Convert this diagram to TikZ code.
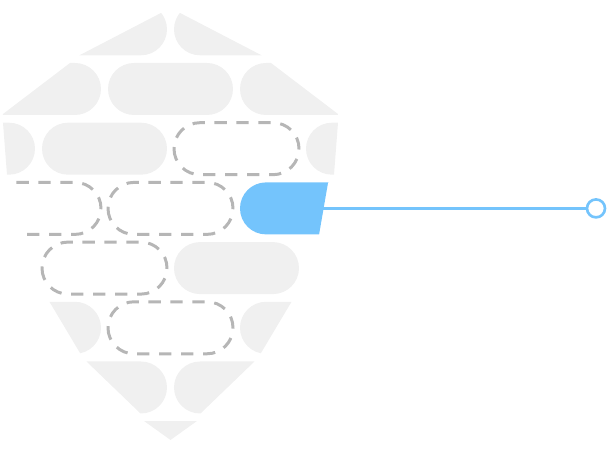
\documentclass[tikz,border=0pt]{standalone}
\usepackage{xcolor}
\usepackage{tikz}
\usetikzlibrary{positioning}
\definecolor{kbrick}{HTML}{F0F0F0}
\definecolor{kdash}{HTML}{B6B6B6}
\definecolor{kblue}{HTML}{74C4FC}

\begin{document}
\begin{tikzpicture}[x=0.02cm, y=-0.02cm,
  brick/.style={fill=kbrick, rounded corners=0.52cm},
  emptybrick/.style={draw=kdash, line width=1.7pt, dash pattern=on 7pt off 5.5pt, rounded corners=0.52cm},
  linkline/.style={draw=kblue, line width=1.4pt},
  port/.style={circle, draw=kblue, fill=white, line width=1.5pt, minimum size=0.36cm, inner sep=0pt}]
\useasboundingbox (0,0) rectangle (610,452);
\begin{scope}
\clip (170.5,8) -- (80,55) -- (70,63) -- (3,114) -- (3,123) -- (7,175) -- (13,183)
  -- (22,235) -- (49,301) -- (80,353) -- (87,362) -- (140,413) -- (144,421) -- (170.5,440)
  -- (197,421) -- (201,413) -- (254,362) -- (261,353) -- (292,301) -- (319,235)
  -- (328,183) -- (334,175) -- (338,123) -- (338,114) -- (271,63) -- (261,55) -- cycle;
% row 1
\fill[brick] (42,3.3) rectangle (167,55.3);
\fill[brick] (174,3.3) rectangle (299,55.3);
% row 2
\fill[brick] (-24,63) rectangle (101,115);
\fill[brick] (108,63) rectangle (233,115);
\fill[brick] (240,63) rectangle (365,115);
% row 3
\fill[brick] (-90,122.7) rectangle (35,174.7);
\fill[brick] (42,122.7) rectangle (167,174.7);
\draw[emptybrick] (174,122.7) rectangle (299,174.7);
\fill[brick] (306,122.7) rectangle (431,174.7);
% row 4
\draw[emptybrick] (-24,182.4) rectangle (101,234.4);
\draw[emptybrick] (108,182.4) rectangle (233,234.4);
\fill[brick, fill=kblue] (240,182.4) rectangle (365,234.4);
% row 5
\draw[emptybrick] (42,242.1) rectangle (167,294.1);
\fill[brick] (174,242.1) rectangle (299,294.1);
% row 6
\fill[brick] (-24,301.8) rectangle (101,353.8);
\draw[emptybrick] (108,301.8) rectangle (233,353.8);
\fill[brick] (240,301.8) rectangle (365,353.8);
% row 7
\fill[brick] (42,361.5) rectangle (167,413.5);
\fill[brick] (174,361.5) rectangle (299,413.5);
% row 8
\fill[brick] (108,421.2) rectangle (233,473.2);
\end{scope}
\coordinate (tab) at (320,208.4);
\node[port] (end) at (596,208.4) {};
\draw[linkline] (tab) -- (end);
\end{tikzpicture}
\end{document}
